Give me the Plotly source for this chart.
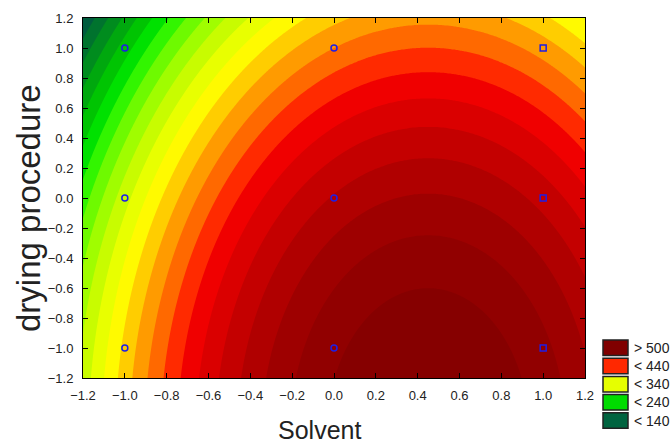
import numpy as np
import plotly.graph_objects as go

solvent = [-1, -1, -1, 0, 0, 0, 1, 1, 1]
drying = [-1, 0, 1, -1, 0, 1, -1, 0, 1]
response = [365, 312, 210, 555, 502, 400, 545, 492, 390]
marker_symbols = ["circle-open"] * 6 + ["square-open"] * 3

# Contour levels and band colours (lowest band first)
level_start, level_end, level_step = 140, 560, 20
band_colors = [
    "rgb(0,92,62)", "rgb(0,115,46)", "rgb(0,140,30)", "rgb(0,168,14)",
    "rgb(0,196,2)", "rgb(0,225,0)", "rgb(50,245,0)", "rgb(110,250,0)",
    "rgb(160,253,0)", "rgb(200,252,0)", "rgb(232,255,0)", "rgb(255,250,0)",
    "rgb(255,205,0)", "rgb(255,155,0)", "rgb(255,105,0)", "rgb(255,42,0)",
    "rgb(240,0,0)", "rgb(218,0,0)", "rgb(196,0,0)", "rgb(176,0,0)",
    "rgb(158,0,0)", "rgb(145,0,0)", "rgb(134,0,0)",
]

legend_labels = ["> 500", "< 440", "< 340", "< 240", "< 140"]
legend_colors = ["rgb(128,0,0)", "rgb(255,40,0)", "rgb(230,255,0)",
                 "rgb(0,220,0)", "rgb(0,100,64)"]

tick_vals = [round(-1.2 + 0.2 * i, 1) for i in range(13)]

# Fit full quadratic response surface to the design points
xs = np.array(solvent, float)
ys = np.array(drying, float)
zs = np.array(response, float)
A = np.column_stack([np.ones_like(xs), xs, ys, xs**2, ys**2, xs * ys])
coef, *_ = np.linalg.lstsq(A, zs, rcond=None)

gx = np.linspace(-1.2, 1.2, 241)
gy = np.linspace(-1.2, 1.2, 241)
GX, GY = np.meshgrid(gx, gy)
GZ = (coef[0] + coef[1] * GX + coef[2] * GY + coef[3] * GX**2
      + coef[4] * GY**2 + coef[5] * GX * GY)

nc = int(round((level_end - level_start) / level_step)) + 1
colorscale = [[j / nc, c] for j, c in enumerate(band_colors)]

fig = go.Figure()
fig.add_trace(go.Contour(
    x=gx, y=gy, z=GZ,
    autocontour=False,
    contours=dict(start=level_start, end=level_end, size=level_step,
                  coloring="fill", showlines=False),
    line=dict(width=0),
    colorscale=colorscale,
    showscale=False,
    hoverinfo="skip",
))
fig.add_trace(go.Scatter(
    x=solvent, y=drying, mode="markers",
    marker=dict(symbol=marker_symbols, size=6, color="rgb(30,30,230)",
                line=dict(width=1.5, color="rgb(30,30,230)")),
    hoverinfo="skip", showlegend=False,
))

axis_common = dict(
    range=[-1.2, 1.2], tickvals=tick_vals, tickformat=".1f",
    ticks="inside", ticklen=5, tickcolor="black", tickwidth=1,
    showline=True, linecolor="black", linewidth=1, mirror="ticks",
    showgrid=False, zeroline=False,
    tickfont=dict(family="Liberation Sans, Arial", size=13, color="#222"),
)
fig.update_xaxes(**axis_common, ticklabelstandoff=5)
fig.update_yaxes(**axis_common, ticklabelstandoff=6)

# Legend boxes and labels
shapes = []
annotations = []
box_h = 15.5 / 360
gap = 18.2 / 360
top = (378 - 340) / 360
for i, (lab, col) in enumerate(zip(legend_labels, legend_colors)):
    y1 = top - i * gap
    y0 = y1 - box_h
    shapes.append(dict(type="rect", xref="paper", yref="paper",
                       x0=(603 - 83) / 502, x1=(628 - 83) / 502, y0=y0, y1=y1,
                       fillcolor=col, line=dict(color="#222", width=1.5)))
    annotations.append(dict(text=lab, xref="paper", yref="paper",
                            x=(632 - 83) / 502, y=(y0 + y1) / 2,
                            xanchor="left", yanchor="middle", showarrow=False,
                            font=dict(family="Liberation Sans, Arial", size=14,
                                      color="#222")))

annotations.append(dict(text="Solvent", xref="paper", yref="paper",
                        x=(319 - 83) / 502, y=(378 - 430) / 360,
                        xanchor="center", yanchor="middle", showarrow=False,
                        font=dict(family="Liberation Sans, Arial", size=25,
                                  color="#222")))
annotations.append(dict(text="drying procedure", xref="paper", yref="paper",
                        x=(28 - 83) / 502, y=(378 - 208) / 360, textangle=-90,
                        xanchor="center", yanchor="middle", showarrow=False,
                        font=dict(family="Liberation Sans, Arial", size=33,
                                  color="#222")))

fig.update_layout(
    width=671, height=443,
    margin=dict(l=83, r=86, t=18, b=65),
    paper_bgcolor="white", plot_bgcolor="white",
    shapes=shapes, annotations=annotations,
    showlegend=False,
)

fig.write_html(
    "out.html",
    config={"displayModeBar": False},
    post_script="document.body.style.margin='0';"
                "document.body.style.overflow='hidden';",
)
